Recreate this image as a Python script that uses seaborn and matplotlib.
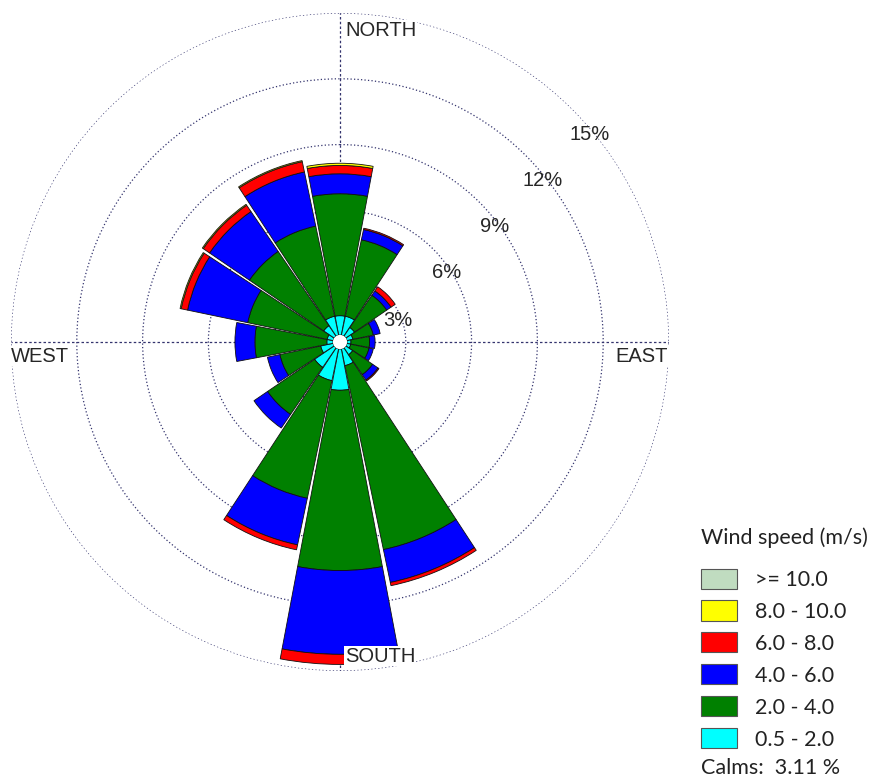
import numpy as np
import matplotlib
matplotlib.use("Agg")
import matplotlib.pyplot as plt
from matplotlib.patches import Patch
import seaborn as sns

# 16 compass sectors, clockwise from north
directions = ["N", "NNE", "NE", "ENE", "E", "ESE", "SE", "SSE",
              "S", "SSW", "SW", "WSW", "W", "WNW", "NW", "NNW"]

# frequency (%) of each speed class per sector
freq_05_20 = [0.88, 0.88, 0.48, 0.28, 0.18, 0.18, 0.38, 0.78,
              1.88, 1.48, 1.08, 0.58, 0.28, 0.28, 0.58, 0.88]
freq_20_40 = [5.56, 3.56, 1.78, 0.95, 0.85, 0.85, 1.10, 8.57,
              8.22, 5.48, 2.60, 1.90, 3.28, 3.70, 4.10, 4.20]
freq_40_60 = [0.91, 0.48, 0.24, 0.32, 0.25, 0.20, 0.30, 1.53,
              3.82, 2.17, 0.75, 0.58, 0.91, 2.80, 2.20, 2.52]
freq_60_80 = [0.38, 0.06, 0.23, 0.00, 0.00, 0.00, 0.05, 0.15,
              0.46, 0.23, 0.00, 0.00, 0.00, 0.30, 0.35, 0.48]
freq_80_100 = [0.10, 0.00, 0.00, 0.00, 0.00, 0.00, 0.00, 0.00,
               0.00, 0.00, 0.00, 0.00, 0.00, 0.05, 0.05, 0.05]
freq_100_up = [0.0] * 16

speed_labels = ["0.5 - 2.0", "2.0 - 4.0", "4.0 - 6.0",
                "6.0 - 8.0", "8.0 - 10.0", ">= 10.0"]
speed_colors = ["#00ffff", "#008000", "#0000ff",
                "#ff0000", "#ffff00", "#c0dcc0"]
calms_pct = 3.11
ring_ticks = [3, 6, 9, 12, 15]

sns.set_style("white")
plt.rcParams["font.family"] = ["Lato", "DejaVu Sans"]
arial = dict(family="Liberation Sans")

W, H = 880, 784
fig = plt.figure(figsize=(W / 100, H / 100), dpi=100)
ax = fig.add_axes([11 / W, (H - 671) / H, 658 / W, 658 / H], projection="polar")
ax.set_theta_zero_location("N")
ax.set_theta_direction(-1)

theta = np.deg2rad(np.arange(len(directions)) * 22.5)
width = np.deg2rad(22.5) * 0.95
hole = 0.32

series = [freq_05_20, freq_20_40, freq_40_60, freq_60_80, freq_80_100, freq_100_up]
bottom = np.full(len(directions), hole)
for vals, color in zip(series, speed_colors):
    v = np.asarray(vals, dtype=float)
    m = v > 0
    if m.any():
        ax.bar(theta[m], v[m], width=width, bottom=bottom[m], color=color,
               edgecolor="#101010", linewidth=0.6, align="center", zorder=3)
    bottom = bottom + v

# blank centre disc
ax.bar(0, hole, width=2 * np.pi, bottom=0, color="white", edgecolor="none", zorder=4)

ax.set_ylim(0, 15)
ax.set_yticks(ring_ticks)
ax.set_yticklabels([])
ax.set_xticks(np.deg2rad([0, 90, 180, 270]))
ax.set_xticklabels([])
grid_col = "#34346e"
ax.yaxis.grid(True, color=grid_col, linestyle=(0, (1, 1.8)), linewidth=0.9)
ax.xaxis.grid(True, color=grid_col, linestyle=(0, (2, 1.8)), linewidth=0.9)
ax.spines["polar"].set_visible(False)
ax.set_axisbelow(True)

# ring labels along an oblique line to the north-east
off = 1.6
ang = np.deg2rad(44)
for v in ring_ticks:
    R = v - 0.2
    b = 2 * off * np.cos(ang)
    t = (-b + np.sqrt(b * b - 4 * (off * off - R * R))) / 2
    x = off + t * np.cos(ang)
    y = t * np.sin(ang)
    ax.text(np.arctan2(x, y), R, f"{v}%", fontsize=14.5,
            ha="center", va="center", zorder=5, **arial)

# compass labels
def ftext(px, py, s, ha):
    fig.text(px / W, 1 - py / H, s, fontsize=14.5, ha=ha, va="center",
             bbox=dict(facecolor="white", edgecolor="none", pad=0.5),
             zorder=6, **arial)

ftext(345, 30, "NORTH", "left")
ftext(345, 656, "SOUTH", "left")
ftext(11, 356, "WEST", "left")
ftext(668, 356, "EAST", "right")

txt_col = "#222222"
fig.text(701 / W, 1 - 538 / H, "Wind speed (m/s)", fontsize=15.5,
         color=txt_col, ha="left", va="center")

handles = [Patch(facecolor=c, edgecolor="#555555", linewidth=0.8)
           for c in speed_colors[::-1]]
leg = fig.legend(handles, speed_labels[::-1], loc="upper left",
                 bbox_to_anchor=(701 / W, 1 - 568.5 / H), frameon=False,
                 fontsize=15.5, handlelength=1.65, handleheight=1.06,
                 handletextpad=0.85, labelspacing=0.49,
                 borderpad=0, borderaxespad=0)
for t in leg.get_texts():
    t.set_color(txt_col)

fig.text(701 / W, 1 - 768 / H, f"Calms:  {calms_pct:.2f} %", fontsize=15.5,
         color=txt_col, ha="left", va="center")

fig.savefig("out.png", dpi=100)
